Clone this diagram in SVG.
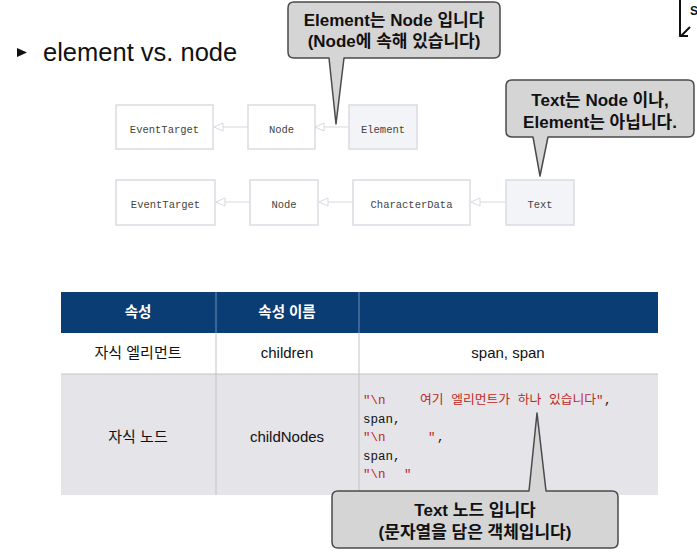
<svg xmlns="http://www.w3.org/2000/svg" width="697" height="556" viewBox="0 0 697 556">
<defs>
<style>
.box{fill:#ffffff;stroke:#d9dce3;stroke-width:1.5}
.box.hl{fill:#f3f4f8}
.lbl{font-family:"Liberation Mono","DejaVu Sans Mono",monospace;font-size:10.5px;fill:#444;text-anchor:middle}
.conn{stroke:#d6d9df;stroke-width:1.2;fill:none}
.call{fill:#d5d5d5;stroke:#4a4a4a;stroke-width:1.5;stroke-linejoin:round}
.ct{font-family:"Liberation Sans","Noto Sans CJK KR",sans-serif;font-weight:bold;font-size:17px;fill:#111;text-anchor:middle}
.th{font-family:"Liberation Sans","Noto Sans CJK KR",sans-serif;font-weight:bold;font-size:14.5px;fill:#fff;text-anchor:middle}
.td{font-family:"Liberation Sans","Noto Sans CJK KR",sans-serif;font-size:15px;fill:#111;text-anchor:middle}
.code{font-family:"Liberation Mono","Noto Sans CJK KR",monospace;font-size:12.5px;fill:#111}
.red{fill:#c0281f}
</style>
<marker id="tri" viewBox="0 0 10 10" refX="10" refY="5" markerWidth="10" markerHeight="10" markerUnits="userSpaceOnUse" orient="auto">
<path d="M1,1 L10,5 L1,9 Z" fill="#fff" stroke="#d6d9df" stroke-width="1"/>
</marker>
</defs>
<rect width="697" height="556" fill="#fff"/>

<g id="title">
<path d="M17,48 L27,52.5 L17,57 Z" fill="#111"/>
<text x="43" y="61" font-family="Liberation Sans, sans-serif" font-size="25.5" fill="#111">element vs. node</text>
</g>

<g id="corner">
<path d="M680,0 V36 M690,27 L681,36 H688" stroke="#111" stroke-width="2" fill="none"/>
<text x="690" y="15" font-family="Liberation Sans, sans-serif" font-weight="bold" font-size="12" fill="#111">S</text>
</g>

<g id="connectors">
<line class="conn" x1="349" y1="127" x2="315" y2="127" marker-end="url(#tri)"/>
<line class="conn" x1="248" y1="127" x2="214" y2="127" marker-end="url(#tri)"/>
<line class="conn" x1="506" y1="202" x2="471" y2="202" marker-end="url(#tri)"/>
<line class="conn" x1="353" y1="202" x2="319" y2="202" marker-end="url(#tri)"/>
<line class="conn" x1="250" y1="202" x2="216" y2="202" marker-end="url(#tri)"/>
</g>

<g id="n-eventtarget1"><rect class="box" x="116" y="105" width="97" height="44"/><text class="lbl" x="164.5" y="133">EventTarget</text></g>
<g id="n-node1"><rect class="box" x="248" y="105" width="67" height="44"/><text class="lbl" x="281.5" y="133">Node</text></g>
<g id="n-element"><rect class="box hl" x="349" y="105" width="68" height="44"/><text class="lbl" x="383" y="133">Element</text></g>
<g id="n-eventtarget2"><rect class="box" x="116" y="180" width="99" height="45"/><text class="lbl" x="165.5" y="208">EventTarget</text></g>
<g id="n-node2"><rect class="box" x="250" y="180" width="68" height="45"/><text class="lbl" x="284" y="208">Node</text></g>
<g id="n-chardata"><rect class="box" x="353" y="180" width="117" height="45"/><text class="lbl" x="411.5" y="208">CharacterData</text></g>
<g id="n-text"><rect class="box hl" x="506" y="180" width="68" height="45"/><text class="lbl" x="540" y="208">Text</text></g>

<g id="table">
<rect x="61" y="292" width="597" height="41" fill="#0a3d73"/>
<rect x="61" y="333" width="597" height="41" fill="#ffffff"/>
<rect x="61" y="374" width="597" height="121" fill="#e4e4e9"/>
<line x1="216" y1="292" x2="216" y2="333" stroke="#6d8fbd" stroke-width="1"/>
<line x1="359" y1="292" x2="359" y2="333" stroke="#6d8fbd" stroke-width="1"/>
<line x1="216" y1="333" x2="216" y2="495" stroke="#c4c4c8" stroke-width="1"/>
<line x1="359" y1="333" x2="359" y2="495" stroke="#c4c4c8" stroke-width="1"/>
<line x1="61" y1="374" x2="658" y2="374" stroke="#c4c4c8" stroke-width="1"/>
<text class="th" x="138" y="317">속성</text>
<text class="th" x="287" y="317">속성 이름</text>
<text class="td" x="138" y="358">자식 엘리먼트</text>
<text class="td" x="287" y="358">children</text>
<text class="td" x="508" y="358">span, span</text>
<text class="td" x="138" y="442">자식 노드</text>
<text class="td" x="287" y="442">childNodes</text>
<text class="code" y="404"><tspan class="red" x="363">"\n</tspan><tspan class="red" x="420" textLength="176" lengthAdjust="spacingAndGlyphs">여기 엘리먼트가 하나 있습니다</tspan><tspan class="red" x="596">"</tspan><tspan x="604">,</tspan></text>
<text class="code" x="363" y="423">span,</text>
<text class="code" y="441"><tspan class="red" x="363">"\n</tspan><tspan class="red" x="428">"</tspan><tspan x="437">,</tspan></text>
<text class="code" x="363" y="460">span,</text>
<text class="code" y="478"><tspan class="red" x="363">"\n</tspan><tspan class="red" x="404">"</tspan></text>
</g>

<g id="callout-element">
<path class="call" d="M294,2 H494 Q500,2 500,8 V52 Q500,58 494,58 H344 L336,124 L329,58 H294 Q288,58 288,52 V8 Q288,2 294,2 Z"/>
<text class="ct" x="394" y="26">Element는 Node 입니다</text>
<text class="ct" x="394" y="47">(Node에 속해 있습니다)</text>
</g>

<g id="callout-text">
<path class="call" d="M512,80 H688 Q694,80 694,86 V131 Q694,137 688,137 H548 L540,176 L533,137 H512 Q506,137 506,131 V86 Q506,80 512,80 Z"/>
<text class="ct" x="600" y="106">Text는 Node 이나,</text>
<text class="ct" x="600" y="128">Element는 아닙니다.</text>
</g>

<g id="callout-textnode">
<path class="call" d="M338,491 H529 L537,413 L546,491 H612 Q618,491 618,497 V542 Q618,548 612,548 H338 Q332,548 332,542 V497 Q332,491 338,491 Z"/>
<text class="ct" x="475" y="516">Text 노드 입니다</text>
<text class="ct" x="475" y="538">(문자열을 담은 객체입니다)</text>
</g>
</svg>
